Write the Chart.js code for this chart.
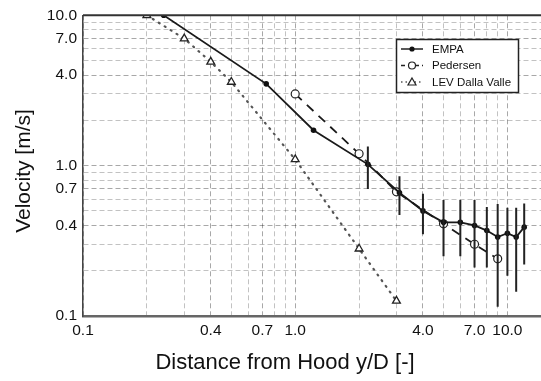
<!DOCTYPE html>
<html>
<head>
<meta charset="utf-8">
<script src="https://cdn.jsdelivr.net/npm/chart.js@4.4.0/dist/chart.umd.min.js"></script>
<style>
  html, body { margin: 0; padding: 0; background: #fff; }
  #wrap { width: 541px; height: 381px; }
</style>
</head>
<body>
<div id="wrap"><canvas id="chart"></canvas></div>
<script>
// values (log-log)
const empaX = [0.24, 0.73, 1.22, 2.2, 3.1, 4.0, 5.0, 6.0, 7.0, 8.0, 9.0, 10.0, 11.0, 12.0];
const empaY = [10, 3.5, 1.72, 1.02, 0.66, 0.5, 0.42, 0.42, 0.4, 0.37, 0.335, 0.355, 0.335, 0.39];
const empaErr = [0, 0, 0, 0.32, 0.19, 0.15, 0.17, 0.17, 0.19, 0.16, 0.22, 0.17, 0.19, 0.17];

const pedersenX = [1.0, 2.0, 3.0, 5.0, 7.0, 9.0];
const pedersenY = [3.0, 1.2, 0.67, 0.41, 0.3, 0.24];

const levX = [0.2, 0.3, 0.4, 0.5, 1.0, 2.0, 3.0];
const levY = [10, 7.0, 4.9, 3.6, 1.1, 0.28, 0.126];

const xTickLabels = [0.1, 0.4, 0.7, 1.0, 4.0, 7.0, 10.0];
const yTickLabels = [0.1, 0.4, 0.7, 1.0, 4.0, 7.0, 10.0];

const xTitle = "Distance from Hood y/D [-]";
const yTitle = "Velocity [m/s]";

const xMin = 0.1, xMax = 14.4;
const yMin = 0.1, yMax = 10;

const FONT = "'Liberation Sans', Arial, sans-serif";

const toPoints = (xs, ys) => xs.map((x, i) => ({ x: x, y: ys[i] }));

// 1..9 x 10^k grid positions between lo and hi
const gridValues = (lo, hi) => {
  let out = [];
  for (let e = -2; e <= 2; e++) {
    for (let m = 1; m <= 9; m++) {
      const v = parseFloat((m * Math.pow(10, e)).toPrecision(6));
      if (v >= lo - 1e-9 && v <= hi + 1e-9) out.push(v);
    }
  }
  return out;
};

const labelFor = (v, list) => {
  const hit = list.find((l) => Math.abs(l - v) < 1e-6);
  return hit === undefined ? "" : hit.toFixed(1);
};

const gridColor = (list) => (ctx) =>
  ctx.tick && labelFor(ctx.tick.value, list) ? "rgba(0,0,0,0.34)" : "rgba(0,0,0,0.24)";

const errorBars = {
  id: "errorBars",
  afterDatasetsDraw(chart) {
    const { ctx, scales: { x, y }, chartArea } = chart;
    ctx.save();
    ctx.beginPath();
    ctx.rect(chartArea.left, chartArea.top, chartArea.right - chartArea.left, chartArea.bottom - chartArea.top);
    ctx.clip();
    ctx.strokeStyle = "#222";
    ctx.lineWidth = 2;
    empaX.forEach((xv, i) => {
      if (!empaErr[i]) return;
      const px = x.getPixelForValue(xv);
      ctx.beginPath();
      ctx.moveTo(px, y.getPixelForValue(empaY[i] + empaErr[i]));
      ctx.lineTo(px, y.getPixelForValue(empaY[i] - empaErr[i]));
      ctx.stroke();
    });
    ctx.restore();
  },
};

const frameAndLegend = {
  id: "frameAndLegend",
  afterDraw(chart) {
    const { ctx, chartArea } = chart;
    ctx.save();
    // top frame line
    ctx.strokeStyle = "#333";
    ctx.lineWidth = 2;
    ctx.beginPath();
    ctx.moveTo(chartArea.left, chartArea.top);
    ctx.lineTo(chartArea.right, chartArea.top);
    ctx.stroke();

    // axis titles (the original figure puts them off-centre)
    ctx.fillStyle = "#111";
    ctx.textAlign = "center";
    ctx.textBaseline = "middle";
    ctx.font = "22px " + FONT;
    ctx.fillText(xTitle, 285, 363);
    ctx.save();
    ctx.translate(24, 171);
    ctx.rotate(-Math.PI / 2);
    ctx.font = "21px " + FONT;
    ctx.fillText(yTitle, 0, 0);
    ctx.restore();

    // legend box
    const bx = 396, by = 39, bw = 122, bh = 53;
    ctx.fillStyle = "#fff";
    ctx.fillRect(bx, by, bw, bh);
    ctx.strokeStyle = "#222";
    ctx.lineWidth = 1.5;
    ctx.strokeRect(bx + 0.5, by + 0.5, bw, bh);

    const entries = [
      { text: "EMPA", dash: [], marker: "dot" },
      { text: "Pedersen", dash: [4, 3], marker: "circle" },
      { text: "LEV Dalla Valle", dash: [1.5, 3], marker: "tri" },
    ];
    ctx.font = "11.5px " + FONT;
    ctx.textAlign = "left";
    ctx.textBaseline = "middle";
    entries.forEach((e, i) => {
      const cy = by + 10 + i * 16.5;
      ctx.strokeStyle = e.marker === "tri" ? "#555" : "#222";
      ctx.lineWidth = 1.5;
      ctx.setLineDash(e.dash);
      ctx.beginPath();
      ctx.moveTo(bx + 5, cy);
      ctx.lineTo(bx + 27, cy);
      ctx.stroke();
      ctx.setLineDash([]);
      ctx.lineWidth = 1.2;
      ctx.strokeStyle = "#222";
      const mx = bx + 16;
      if (e.marker === "dot") {
        ctx.fillStyle = "#111";
        ctx.beginPath(); ctx.arc(mx, cy, 2.6, 0, Math.PI * 2); ctx.fill();
      } else if (e.marker === "circle") {
        ctx.fillStyle = "#fff";
        ctx.beginPath(); ctx.arc(mx, cy, 3.5, 0, Math.PI * 2); ctx.fill(); ctx.stroke();
      } else {
        ctx.fillStyle = "#fff";
        ctx.beginPath();
        ctx.moveTo(mx, cy - 4); ctx.lineTo(mx + 4, cy + 3); ctx.lineTo(mx - 4, cy + 3); ctx.closePath();
        ctx.fill(); ctx.stroke();
      }
      ctx.fillStyle = "#111";
      ctx.fillText(e.text, bx + 36, cy + 0.5);
    });
    ctx.restore();
  },
};

new Chart(document.getElementById("chart"), {
  type: "scatter",
  data: {
    datasets: [
      {
        label: "EMPA",
        data: toPoints(empaX, empaY),
        showLine: true,
        borderColor: "#1a1a1a",
        borderWidth: 1.8,
        backgroundColor: "#111",
        pointRadius: 2.8,
        pointBorderWidth: 0,
        pointStyle: "circle",
      },
      {
        label: "Pedersen",
        data: toPoints(pedersenX, pedersenY),
        showLine: true,
        borderColor: "#1a1a1a",
        borderWidth: 1.8,
        borderDash: [9, 7],
        backgroundColor: "#fff",
        pointBorderColor: "#222",
        pointBackgroundColor: "#fff",
        pointRadius: 4,
        pointBorderWidth: 1.2,
        pointStyle: "circle",
      },
      {
        label: "LEV Dalla Valle",
        data: toPoints(levX, levY),
        showLine: true,
        borderColor: "#555",
        borderWidth: 2.2,
        borderDash: [1, 6],
        borderCapStyle: "round",
        backgroundColor: "#fff",
        pointBorderColor: "#222",
        pointBackgroundColor: "#fff",
        pointRadius: 4.5,
        pointBorderWidth: 1.3,
        pointStyle: "triangle",
      },
    ],
  },
  options: {
    responsive: true,
    maintainAspectRatio: false,
    animation: false,
    layout: { autoPadding: false, padding: { top: 15, right: 0, left: 0, bottom: 0 } },
    plugins: {
      legend: { display: false },
      tooltip: { enabled: false },
    },
    scales: {
      x: {
        type: "logarithmic",
        min: xMin,
        max: xMax,
        afterBuildTicks: (s) => {
          s.ticks = gridValues(xMin, xMax).map((v) => ({ value: v }));
        },
        afterFit: (s) => {
          s.height = 65;
          s.paddingLeft = 0;
          s.paddingRight = 0;
        },
        ticks: {
          autoSkip: false,
          maxRotation: 0,
          padding: 5,
          color: "#111",
          font: { family: FONT, size: 15.5 },
          callback: (v) => labelFor(v, xTickLabels),
        },
        grid: { color: gridColor(xTickLabels), lineWidth: 1, drawTicks: false },
        border: { color: "#666", width: 2.5, dash: [5, 3] },
        title: { display: false },
      },
      y: {
        type: "logarithmic",
        min: yMin,
        max: yMax,
        afterBuildTicks: (s) => {
          s.ticks = gridValues(yMin, yMax).map((v) => ({ value: v }));
        },
        afterFit: (s) => { s.width = 83; },
        ticks: {
          autoSkip: false,
          padding: 6,
          color: "#111",
          font: { family: FONT, size: 15.5 },
          callback: (v) => labelFor(v, yTickLabels),
        },
        grid: { color: gridColor(yTickLabels), lineWidth: 1, drawTicks: false },
        border: { color: "#444", width: 1.5, dash: [5, 3] },
        title: { display: false },
      },
    },
  },
  plugins: [errorBars, frameAndLegend],
});
</script>
</body>
</html>
